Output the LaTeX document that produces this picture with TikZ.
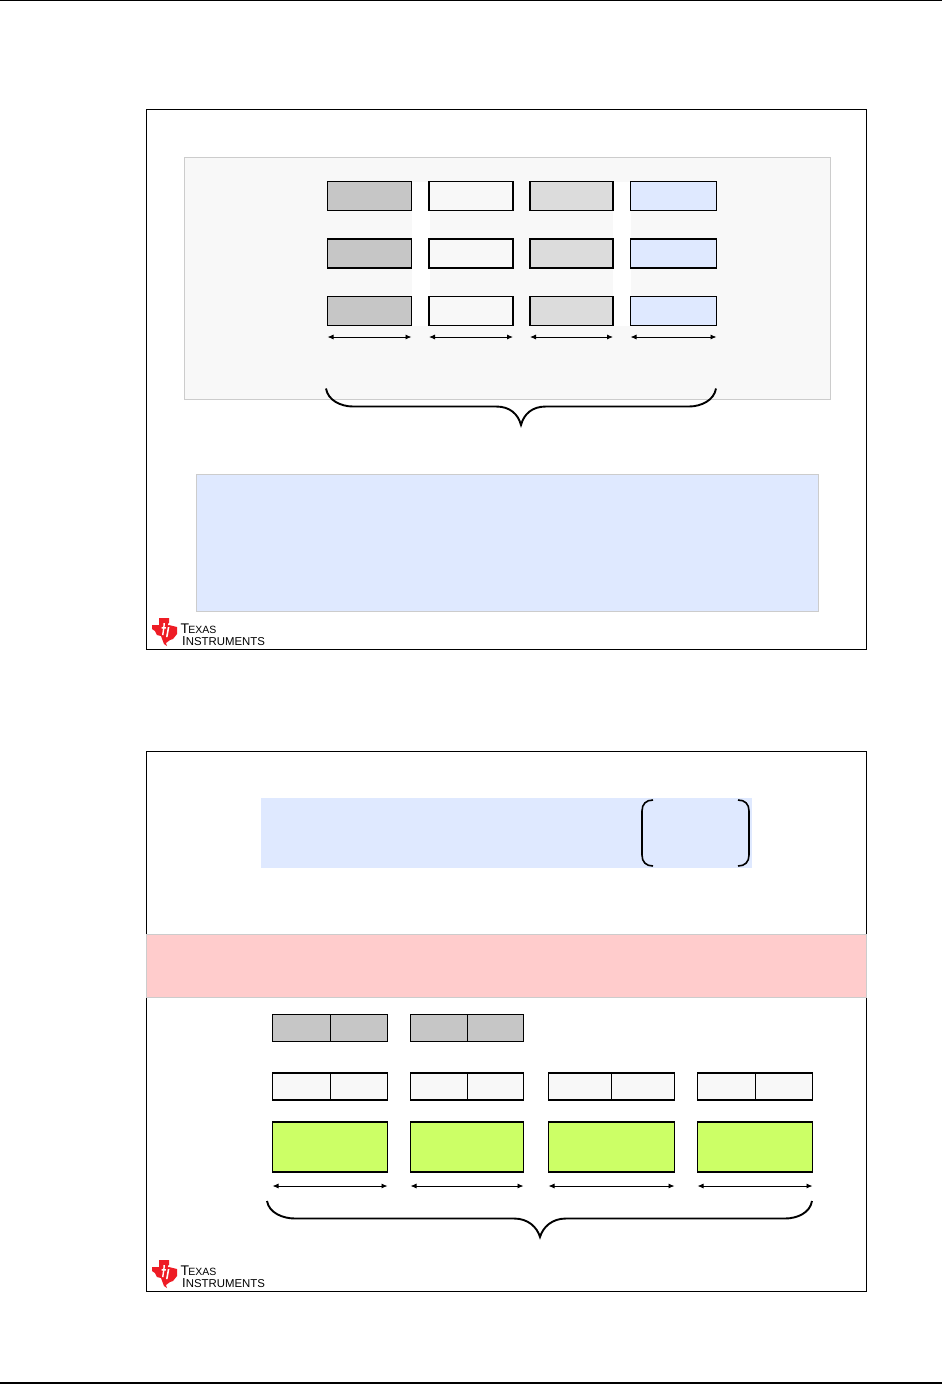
\documentclass[tikz,border=0pt]{standalone}
\usepackage{fontspec}
\setmainfont{Liberation Sans}
\usepackage{xcolor}
\usetikzlibrary{arrows.meta,positioning,calc}
\definecolor{panelgray}{HTML}{F8F8F8}
\definecolor{cellgray}{HTML}{C6C6C6}
\definecolor{cellmid}{HTML}{DCDCDC}
\definecolor{paleblue}{HTML}{DFE9FF}
\definecolor{palered}{HTML}{FFCCCC}
\definecolor{lime}{HTML}{CCFF66}
\definecolor{tired}{HTML}{EE1C25}

\begin{document}
\begin{tikzpicture}[
    x=1pt, y=-1pt,
    box/.style={anchor=north west, outer sep=0pt, inner sep=0pt},
    frame/.style={box, draw, line width=1.2pt, fill=white},
    panel/.style={box, draw=black!20, line width=0.8pt},
    gap/.style={box, fill=white},
    cell/.style={box, draw, line width=1.7pt, minimum height=29pt},
    splitcell/.style={box, draw, line width=1.7pt, minimum height=27pt},
    greencell/.style={box, draw, line width=1.8pt, fill=lime, minimum height=50pt},
    divider/.style={line width=1pt},
    span/.style={{Latex[length=6pt,width=5pt]}-{Latex[length=6pt,width=5pt]}, line width=0.9pt},
    curly/.style={line width=1.9pt},
    paren/.style={line width=1.6pt},
    logo/.pic={
        \fill[tired] (0,7) -- (7,7) -- (7,0) -- (17,0) -- (17,7) -- (25,9) -- (25,16) -- (21,21)
            -- (18,22) -- (14,25) -- (15,28) -- (12,26) -- (9,18) -- (5,17) -- (3,13) -- (0,11) -- cycle;
        \fill[white] (11.5,5) -- (13,5) -- (12.6,9) -- (14,9) -- (13.8,10.5) -- (12.4,10.5) -- (11.5,17) -- (10,17) -- (11,10.5) -- (9.5,10.5) -- (9.7,9) -- (11.2,9) -- cycle;
        \fill[white] (16.4,5) -- (18,5) -- (17.7,7) -- (16.1,7) -- cycle (15.8,9) -- (17.4,9) -- (15.6,19) -- (14,19) -- cycle;
        \node[anchor=base west, inner sep=0pt, font=\fontsize{14}{14}\selectfont] (logoT) at (28.5,15.5) {T\kern-0.8pt\fontsize{10.5}{10.5}\selectfont EXAS};
        \node[anchor=base west, inner sep=0pt, font=\fontsize{13}{13}\selectfont] (logoI) at (30,27.5) {I\fontsize{11.4}{11.4}\selectfont NSTRUMENTS};
    }
]
\useasboundingbox (0,0) rectangle (942,1384);
\coordinate (ruleTL) at (0,0.7);
\coordinate (ruleTR) at (942,0.7);
\coordinate (ruleBL) at (0,1383);
\coordinate (ruleBR) at (942,1383);
\draw[line width=1.4pt] (ruleTL) -- (ruleTR);
\draw[line width=2pt] (ruleBL) -- (ruleBR);

% upper slide
\node[frame, minimum width=719.7pt, minimum height=539.7pt] (slideA) at (146.8,109.8) {};
\node[panel, fill=panelgray, minimum width=646.5pt, minimum height=242.5pt] (regions) at (184,157) {};
\node[gap, minimum width=18pt, minimum height=144pt] (gapA) at (411.5,182) {};
\node[gap, minimum width=18pt, minimum height=144pt] (gapB) at (612.5,182) {};
\node[panel, fill=paleblue, minimum width=622.5pt, minimum height=137.5pt] (note) at (196,474) {};

\foreach \row/\ypos in {1/181.5, 2/239, 3/296.5} {
    \node[cell, fill=cellgray, minimum width=84pt] (grayA\row) at (327.5,\ypos) {};
    \node[cell, fill=panelgray, minimum width=84pt] (whiteA\row) at (429,\ypos) {};
    \node[cell, fill=cellmid, minimum width=83pt] (midA\row) at (530,\ypos) {};
    \node[cell, fill=paleblue, minimum width=86pt] (blueA\row) at (630.5,\ypos) {};
}
\foreach \col in {grayA3, whiteA3, midA3, blueA3} {
    \draw[span] ([yshift=-11.5pt]\col.south west) -- ([yshift=-11.5pt]\col.south east);
}
\coordinate (braceAL) at (326,388.5);
\coordinate (braceAR) at (716,388.5);
\coordinate (braceAM) at (521,425);
\draw[curly] (braceAL) .. controls +(2,12) and +(-12,0) .. (353,406.5) -- (496,406.5)
    .. controls +(14,0) and +(-3,-11) .. (braceAM)
    .. controls +(3,-11) and +(-14,0) .. (546,406.5) -- (689,406.5)
    .. controls +(12,0) and +(-2,12) .. (braceAR);
\pic at (152,618) {logo};

% lower slide
\node[frame, minimum width=719.7pt, minimum height=539.7pt] (slideB) at (146.8,751.8) {};
\node[box, fill=paleblue, minimum width=491pt, minimum height=70pt] (header) at (261,798) {};
\coordinate (parenLT) at (653,800);
\coordinate (parenLB) at (653,866);
\coordinate (parenRT) at (738,800);
\coordinate (parenRB) at (738,866);
\draw[paren] (parenLT) .. controls (646,800) and (642,804) .. (642,811) -- (642,855)
    .. controls (642,862) and (646,866) .. (parenLB);
\draw[paren] (parenRT) .. controls (745,800) and (749,804) .. (749,811) -- (749,855)
    .. controls (749,862) and (745,866) .. (parenRB);
\node[panel, fill=palered, minimum width=719.6pt, minimum height=63.5pt] (band) at (146.8,934) {};

\node[splitcell, fill=cellgray, minimum width=115pt] (grayB1) at (272.5,1014.5) {};
\node[splitcell, fill=cellgray, minimum width=113pt] (grayB2) at (410.5,1014.5) {};
\node[splitcell, fill=panelgray, minimum width=115pt] (whiteB1) at (272.5,1073) {};
\node[splitcell, fill=panelgray, minimum width=113pt] (whiteB2) at (410.5,1073) {};
\node[splitcell, fill=panelgray, minimum width=126pt] (whiteB3) at (548.5,1073) {};
\node[splitcell, fill=panelgray, minimum width=115pt] (whiteB4) at (697.5,1073) {};
\foreach \col in {grayB1, grayB2, whiteB1, whiteB2, whiteB3, whiteB4} {
    \draw[divider] (\col.north) -- (\col.south);
}
\node[greencell, minimum width=115pt] (greenB1) at (272.5,1122) {};
\node[greencell, minimum width=113pt] (greenB2) at (410.5,1122) {};
\node[greencell, minimum width=126pt] (greenB3) at (548.5,1122) {};
\node[greencell, minimum width=115pt] (greenB4) at (697.5,1122) {};
\foreach \col in {greenB1, greenB2, greenB3, greenB4} {
    \draw[span] ([yshift=-14pt]\col.south west) -- ([yshift=-14pt]\col.south east);
}
\coordinate (braceBL) at (267,1201);
\coordinate (braceBR) at (812,1201);
\coordinate (braceBM) at (540,1237);
\draw[curly] (braceBL) .. controls +(2,12) and +(-12,0) .. (295,1218.5) -- (514,1218.5)
    .. controls +(14,0) and +(-3,-10) .. (braceBM)
    .. controls +(3,-10) and +(-14,0) .. (566,1218.5) -- (785,1218.5)
    .. controls +(12,0) and +(-2,12) .. (braceBR);
\pic at (152,1260) {logo};
\end{tikzpicture}
\end{document}
